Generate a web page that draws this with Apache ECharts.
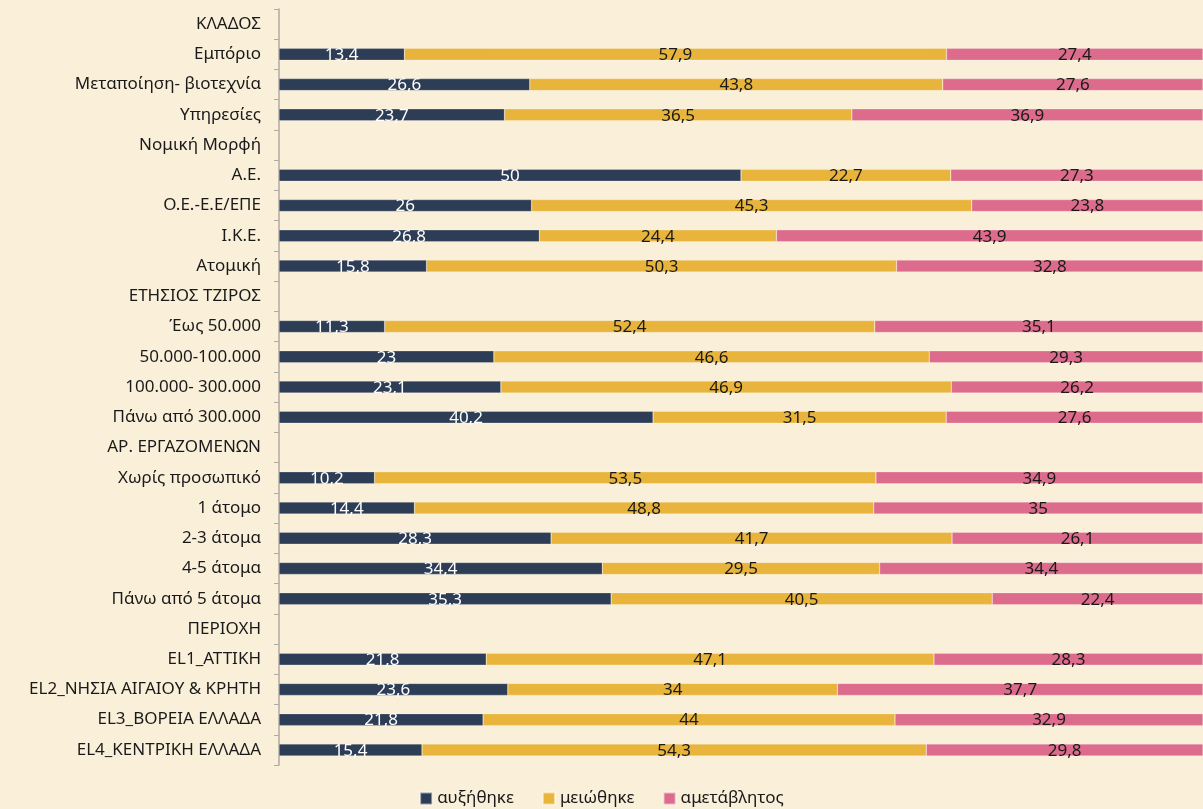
<!DOCTYPE html>
<html>
<head>
<meta charset="utf-8">
<script src="https://cdn.jsdelivr.net/npm/echarts@6/dist/echarts.min.js"></script>
<style>
  html, body {
    margin: 0;
    padding: 0;
    background: #faf0da;
  }
  #chart {
    width: 1203px;
    height: 809px;
  }
</style>
</head>
<body>
<div id="chart"></div>
<script>
// κατηγορίες από πάνω προς τα κάτω (οι επικεφαλίδες δεν έχουν τιμές)
var categories = [
  "ΚΛΑΔΟΣ", "Εμπόριο", "Μεταποίηση- βιοτεχνία", "Υπηρεσίες",
  "Νομική Μορφή", "Α.Ε.", "Ο.Ε.-Ε.Ε/ΕΠΕ", "Ι.Κ.Ε.", "Ατομική",
  "ΕΤΗΣΙΟΣ ΤΖΙΡΟΣ", "Έως 50.000", "50.000-100.000", "100.000- 300.000", "Πάνω από 300.000",
  "ΑΡ. ΕΡΓΑΖΟΜΕΝΩΝ", "Χωρίς προσωπικό", "1 άτομο", "2-3 άτομα", "4-5 άτομα", "Πάνω από 5 άτομα",
  "ΠΕΡΙΟΧΗ", "EL1_ΑΤΤΙΚΗ", "EL2_ΝΗΣΙΑ ΑΙΓΑΙΟΥ & ΚΡΗΤΗ", "EL3_ΒΟΡΕΙΑ ΕΛΛΑΔΑ", "EL4_ΚΕΝΤΡΙΚΗ ΕΛΛΑΔΑ"
];
var increased = [null, 13.4, 26.6, 23.7, null, 50, 26, 26.8, 15.8, null, 11.3, 23, 23.1, 40.2,
  null, 10.2, 14.4, 28.3, 34.4, 35.3, null, 21.8, 23.6, 21.8, 15.4];
var decreased = [null, 57.9, 43.8, 36.5, null, 22.7, 45.3, 24.4, 50.3, null, 52.4, 46.6, 46.9, 31.5,
  null, 53.5, 48.8, 41.7, 29.5, 40.5, null, 47.1, 34, 44, 54.3];
var unchanged = [null, 27.4, 27.6, 36.9, null, 27.3, 23.8, 43.9, 32.8, null, 35.1, 29.3, 26.2, 27.6,
  null, 34.9, 35, 26.1, 34.4, 22.4, null, 28.3, 37.7, 32.9, 29.8];
var seriesNames = ["αυξήθηκε", "μειώθηκε", "αμετάβλητος"];
var colors = ["#2e3d56", "#e8b43b", "#dc6b8c"];

// 100% stacked: κάθε γραμμή κανονικοποιείται στο σύνολό της
function toPercent(arr, i) {
  var v = arr[i];
  if (v == null) return null;
  var total = increased[i] + decreased[i] + unchanged[i];
  return { value: v / total * 100, raw: v };
}

function buildSeries(arr, idx) {
  var data = [];
  for (var i = 0; i < categories.length; i++) {
    data.push(toPercent(arr, i));
  }
  return {
    name: seriesNames[idx],
    type: "bar",
    stack: "all",
    barWidth: 12,
    data: data,
    itemStyle: {
      color: colors[idx],
      borderColor: "rgba(255,255,255,0.5)",
      borderWidth: 0.5
    },
    label: {
      show: true,
      position: "inside",
      offset: [0, 1],
      fontFamily: "Noto Sans",
      fontSize: 17,
      color: idx == 0 ? "#ffffff" : "#1a1a1a",
      formatter: function (p) {
        return String(p.data.raw).replace(".", ",");
      }
    }
  };
}

var myChart = echarts.init(document.getElementById("chart"));
myChart.setOption({
  backgroundColor: "#faf0da",
  animation: false,
  textStyle: { fontFamily: "Noto Sans" },
  grid: {
    left: 279,
    top: 9,
    width: 928,
    height: 756
  },
  legend: {
    bottom: -3,
    left: "center",
    icon: "rect",
    itemWidth: 12,
    itemHeight: 12,
    itemGap: 28,
    textStyle: { fontSize: 17, color: "#1a1a1a" },
    data: seriesNames
  },
  xAxis: {
    type: "value",
    min: 0,
    max: 100,
    show: false
  },
  yAxis: {
    type: "category",
    inverse: true,
    data: categories,
    axisLine: {
      show: true,
      lineStyle: { color: "#b0aaa0", width: 1.5 }
    },
    axisTick: {
      show: true,
      length: 5,
      lineStyle: { color: "#b0aaa0" }
    },
    axisLabel: {
      margin: 18,
      fontSize: 17,
      color: "#1a1a1a"
    }
  },
  series: [
    buildSeries(increased, 0),
    buildSeries(decreased, 1),
    buildSeries(unchanged, 2)
  ]
});
</script>
</body>
</html>
